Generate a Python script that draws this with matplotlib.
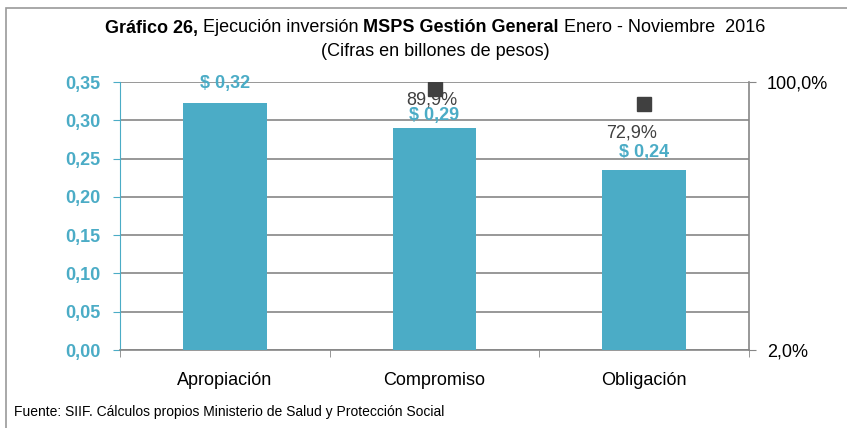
import matplotlib
matplotlib.use("Agg")
import matplotlib.pyplot as plt
import matplotlib.patches as patches
from matplotlib.ticker import FixedLocator, NullLocator

plt.rcParams['font.family'] = ['Liberation Sans Narrow', 'Liberation Sans', 'DejaVu Sans']

categorias = ["Apropiación", "Compromiso", "Obligación"]
valores = [0.322, 0.2895, 0.235]
etiquetas_valor = ["$ 0,32", "$ 0,29", "$ 0,24"]
ejecucion = [0.899, 0.729]
etiquetas_pct = ["89,9%", "72,9%"]
ticks_izq = [0.00, 0.05, 0.10, 0.15, 0.20, 0.25, 0.30, 0.35]

azul = "#4BACC6"
gris = "#868686"
oscuro = "#404040"

W, H = 847, 428
fig = plt.figure(figsize=(W / 100, H / 100), dpi=100)

# marco del grafico
fig.add_artist(patches.Rectangle((6 / W, -0.1), 1.2, 1 - 8 / H + 0.1, transform=fig.transFigure,
                                 fill=False, edgecolor="#9a9a9a", linewidth=1.2))

ax = fig.add_axes([120 / W, 1 - 350 / H, (749 - 120) / W, (350 - 82) / H])
x = [1, 2, 3]
ax.bar(x, valores, width=0.4, color=azul, zorder=3)
ax.set_xlim(0.5, 3.5)
ax.set_ylim(0, 0.35)
ax.set_yticks(ticks_izq)
ax.set_yticklabels([f"{t:.2f}".replace(".", ",") for t in ticks_izq])
ax.yaxis.grid(True, color=gris, linewidth=1.2, zorder=0)
ax.set_xticks(x)
ax.set_xticklabels(categorias, fontsize=13)
ax.xaxis.set_minor_locator(FixedLocator([0.5, 1.5, 2.5, 3.5]))
ax.tick_params(axis="x", which="major", length=0, pad=16)
ax.tick_params(axis="x", which="minor", length=5, color=gris, direction="out")
ax.tick_params(axis="y", length=5, color=azul, labelcolor=azul, labelsize=13, pad=9)
for t in ax.get_yticklabels():
    t.set_fontweight("bold")
ax.spines["top"].set_visible(False)
ax.spines["right"].set_visible(False)
ax.spines["left"].set_color(azul)
ax.spines["bottom"].set_color(gris)
ax.spines["bottom"].set_linewidth(1.2)

# etiquetas de barras
desplaz = [14, 9, 13]
for xi, v, et, d in zip(x, valores, etiquetas_valor, desplaz):
    ax.annotate(et, (xi, v), xytext=(0, d), textcoords="offset points", ha="center", va="center",
                color=azul, fontweight="bold", fontsize=13, zorder=5)

# eje secundario (logaritmico)
ax2 = ax.twinx()
ax2.set_yscale("log")
ax2.set_ylim(0.02, 1.0)
ax2.yaxis.set_major_locator(FixedLocator([0.02, 1.0]))
ax2.yaxis.set_minor_locator(NullLocator())
ax2.set_yticklabels(["2,0%", "100,0%"])
ax2.tick_params(axis="y", length=5, color=gris, labelsize=13, pad=8, labelcolor="#000000")
ax2.spines["right"].set_color(gris)
ax2.spines["right"].set_linewidth(1.2)
for s in ["top", "left", "bottom"]:
    ax2.spines[s].set_visible(False)
ax2.plot([2, 3], ejecucion, linestyle="none", marker="s", markersize=10, color=oscuro, zorder=4)
desplaz_pct = [(-2, -8), (-9, -21)]
for xi, v, et, d in zip([2, 3], ejecucion, etiquetas_pct, desplaz_pct):
    ax2.annotate(et, (xi, v), xytext=d, textcoords="offset points", ha="center", va="center",
                 color=oscuro, fontsize=13)

# titulo con partes en negrita
partes = [("Gráfico 26,", "bold"), (" Ejecución inversión ", "normal"),
          ("MSPS Gestión General", "bold"), (" Enero - Noviembre  2016", "normal")]
fig.canvas.draw()
r = fig.canvas.get_renderer()
textos = []
ancho = 0
for txt, peso in partes:
    t = fig.text(0, 1 - 28 / H, txt, fontsize=13, fontweight=peso, va="center", ha="left")
    w = t.get_window_extent(r).width
    textos.append((t, w))
    ancho += w
x0 = (435 - ancho / 2)
for t, w in textos:
    t.set_x(x0 / W)
    x0 += w
fig.text(435 / W, 1 - 52 / H, "(Cifras en billones de pesos)", fontsize=13, ha="center", va="center")

fig.text(14 / W, 1 - 412 / H, "Fuente: SIIF. Cálculos propios Ministerio de Salud y Protección Social",
         fontsize=10, ha="left", va="center")

fig.savefig("out.png", dpi=100)
